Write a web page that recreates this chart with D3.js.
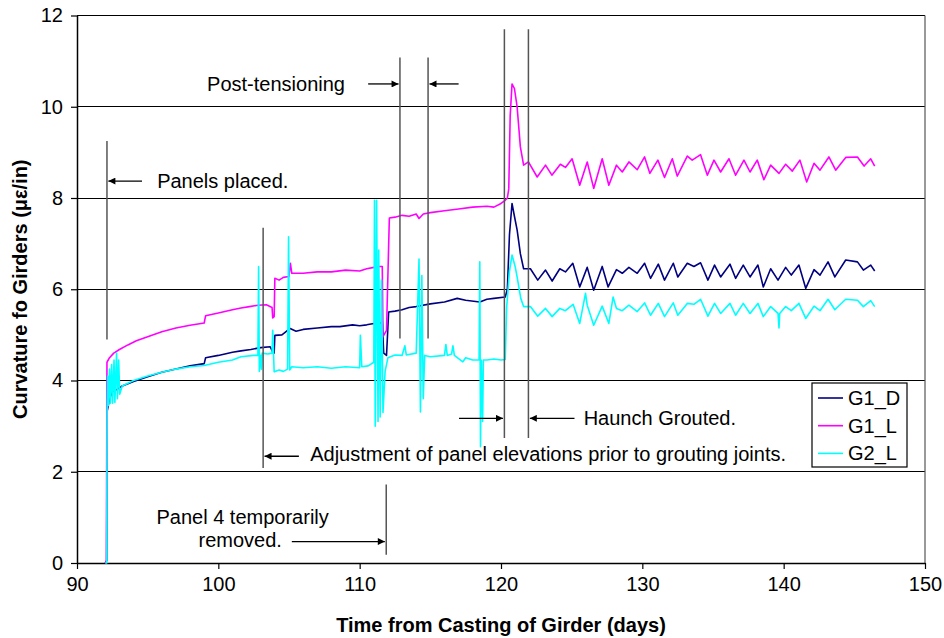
<!DOCTYPE html>
<html><head><meta charset="utf-8">
<script src="https://cdn.jsdelivr.net/npm/d3@7"></script>
<style>body{margin:0;background:#fff}svg{display:block}text{font-family:"Liberation Sans",Arial,sans-serif;fill:#000}</style>
</head><body>
<svg id="c" width="944" height="638"></svg>
<script>
// ---- data ----
const xTicks = [90,100,110,120,130,140,150];
const yTicks = [0,2,4,6,8,10,12];
const seriesNames = ["G1_D","G1_L","G2_L"];
const seriesColors = ["#000080","#ff00ff","#00ffff"];

const g1d = [[92.0,0],[92.1,0.05],[92.12,3.3],[92.3,3.6],[92.5,3.75],[92.8,3.8],[93.2,3.88],[94,3.98],[95,4.08],[96,4.18],[97,4.25],[98,4.32],[99,4.37],[99.1,4.5],[100,4.55],[101,4.62],[101.6,4.65],[102.3,4.68],[103.0,4.72],[103.67,4.74],[103.85,4.62],[103.95,4.6],[104.0,4.99],[104.5,5.0],[105.08,5.14],[105.5,5.08],[106,5.12],[107,5.15],[108,5.18],[108.6,5.18],[109.5,5.22],[110,5.2],[110.5,5.22],[111,5.25],[111.3,5.22],[111.6,5.29],[111.7,4.6],[111.9,4.55],[112.05,5.5],[112.5,5.52],[113,5.55],[113.5,5.6],[114,5.62],[115,5.68],[116,5.72],[116.9,5.8],[117.5,5.76],[118.5,5.72],[119,5.78],[119.5,5.8],[120.3,5.83],[120.45,6.0],[120.6,7.2],[120.78,7.88],[120.95,7.6],[121.14,7.3],[121.37,6.78],[121.6,6.45],[122.08,6.45],[122.6,6.2],[123.15,6.42],[123.62,6.18],[124.16,6.45],[124.56,6.38],[125.08,6.57],[125.57,6.05],[126.1,6.48],[126.56,5.98],[127.16,6.5],[127.58,6.05],[128.17,6.43],[128.58,6.35],[129.05,6.48],[129.64,6.35],[130.16,6.57],[130.58,6.24],[131.13,6.55],[131.57,6.2],[132.19,6.57],[132.51,6.27],[133.18,6.57],[133.65,6.5],[134.12,6.58],[134.64,6.2],[135.11,6.53],[135.54,6.27],[136.2,6.55],[136.6,6.24],[137.14,6.53],[137.62,6.27],[138.18,6.53],[138.56,6.05],[139.08,6.45],[139.6,6.2],[140.14,6.48],[140.54,6.31],[141.08,6.53],[141.56,6.02],[142.15,6.43],[142.57,6.31],[143.14,6.6],[143.62,6.27],[144.39,6.64],[145.22,6.6],[145.64,6.42],[146.16,6.53],[146.44,6.4]];

const g1l = [[92.0,0],[92.08,0.05],[92.12,4.4],[92.3,4.5],[92.6,4.6],[93.0,4.68],[93.6,4.78],[94.2,4.87],[95.0,4.96],[96.0,5.07],[97.0,5.15],[98.0,5.21],[99.0,5.26],[99.1,5.42],[100.0,5.48],[101.0,5.55],[101.6,5.59],[102.2,5.62],[102.8,5.65],[103.4,5.66],[103.8,5.6],[103.85,5.37],[103.95,5.4],[104.0,6.24],[104.3,6.2],[104.6,6.26],[105.0,6.28],[105.1,6.57],[105.2,6.35],[106,6.35],[107,6.38],[108,6.38],[109,6.42],[110,6.4],[110.5,6.45],[111.0,6.48],[111.4,6.5],[111.6,6.5],[111.65,4.96],[111.9,5.1],[112.1,7.56],[112.5,7.58],[113,7.62],[113.5,7.6],[114,7.65],[114.2,7.55],[114.5,7.65],[115,7.68],[116,7.72],[117,7.76],[118,7.8],[119,7.82],[119.5,7.8],[120,7.88],[120.3,7.95],[120.45,8.0],[120.55,8.2],[120.65,9.8],[120.78,10.5],[120.95,10.4],[121.14,10.0],[121.37,9.12],[121.6,8.72],[121.94,8.79],[122.56,8.46],[123.15,8.72],[123.6,8.5],[124.2,8.74],[124.56,8.67],[125.03,8.86],[125.57,8.28],[126.1,8.79],[126.56,8.21],[127.16,8.86],[127.63,8.28],[128.17,8.72],[128.58,8.57],[129.05,8.79],[129.64,8.62],[130.16,8.9],[130.53,8.54],[131.1,8.83],[131.57,8.45],[132.12,8.86],[132.47,8.48],[133.18,8.92],[133.53,8.83],[134.12,8.95],[134.6,8.5],[135.07,8.83],[135.54,8.57],[136.13,8.86],[136.6,8.5],[137.19,8.83],[137.62,8.57],[138.13,8.83],[138.6,8.4],[139.08,8.72],[139.67,8.54],[140.14,8.74],[140.61,8.59],[141.15,8.83],[141.63,8.35],[142.15,8.76],[142.57,8.61],[143.2,8.9],[143.68,8.61],[144.39,8.89],[145.22,8.9],[145.69,8.7],[146.16,8.86],[146.44,8.7]];

const g2l = [[92.0,0],[92.1,0],[92.13,3.3],[92.17,4.1],[92.22,3.45],[92.3,4.25],[92.36,3.5],[92.45,4.35],[92.52,3.5],[92.62,4.45],[92.68,3.52],[92.8,4.6],[92.86,3.6],[92.95,4.45],[93.02,3.7],[93.2,3.88],[94,4.0],[95,4.1],[96,4.18],[97,4.25],[98,4.3],[99,4.33],[100,4.4],[101,4.45],[101.6,4.52],[102.5,4.55],[102.8,4.55],[102.85,6.5],[102.9,4.2],[103.0,4.55],[103.05,4.25],[103.1,4.6],[103.5,4.58],[103.8,4.6],[103.85,5.1],[103.95,4.19],[104.3,4.23],[104.6,4.2],[104.9,4.25],[104.97,7.15],[105.05,4.23],[105.2,4.3],[106,4.28],[107,4.3],[108,4.27],[109,4.3],[110,4.28],[110.05,4.99],[110.15,4.3],[110.6,4.32],[111.0,4.4],[111.05,7.95],[111.1,3.0],[111.2,7.95],[111.3,3.1],[111.35,6.86],[111.45,3.2],[111.55,6.2],[111.65,3.3],[111.8,4.2],[112,4.5],[112.5,4.56],[113,4.55],[113.2,4.76],[113.3,4.56],[114,4.6],[114.2,6.66],[114.3,3.31],[114.4,6.3],[114.5,3.6],[114.6,4.55],[115,4.52],[116.0,4.55],[116.1,4.79],[116.2,4.55],[116.5,4.58],[116.6,4.76],[116.7,4.55],[117.3,4.41],[117.5,4.5],[118,4.45],[118.45,4.45],[118.5,6.6],[118.55,2.55],[118.6,4.45],[118.7,3.1],[118.75,4.45],[119,4.45],[119.5,4.47],[120,4.45],[120.3,4.46],[120.4,5.6],[120.6,6.4],[120.78,6.75],[121.0,6.5],[121.14,6.27],[121.4,5.8],[121.6,5.62],[122.08,5.62],[122.6,5.41],[123.15,5.58],[123.62,5.4],[124.16,5.58],[124.56,5.53],[125.1,5.67],[125.57,5.25],[125.98,5.91],[126.1,5.65],[126.56,5.21],[127.16,5.63],[127.63,5.25],[127.93,5.83],[128.17,5.58],[128.58,5.53],[129.05,5.65],[129.64,5.51],[130.16,5.7],[130.58,5.43],[131.13,5.69],[131.57,5.4],[132.19,5.7],[132.51,5.43],[133.18,5.69],[133.65,5.67],[134.12,5.78],[134.64,5.41],[135.11,5.69],[135.54,5.47],[136.2,5.69],[136.6,5.43],[137.14,5.69],[137.62,5.47],[138.18,5.69],[138.56,5.4],[139.08,5.62],[139.6,5.47],[139.67,5.15],[139.72,5.47],[140.14,5.62],[140.54,5.53],[141.08,5.69],[141.56,5.36],[142.15,5.63],[142.57,5.53],[143.14,5.78],[143.62,5.55],[144.39,5.78],[145.22,5.76],[145.64,5.62],[146.16,5.75],[146.44,5.62]];

// annotation event lines: [day, yFrom, yTo]
const eventLines = [[92.12,4.9,9.25],[112.85,4.92,11.08],[114.84,4.92,11.08],[120.24,2.74,11.7],[121.94,2.74,11.7],[103.17,2.08,7.35],[111.88,0.18,1.72]];
// arrows: [fromDay, toDay, y]
const arrows = [[94.6,92.22,8.37],[110.6,112.75,10.5],[117.0,114.94,10.5],[117.03,120.14,3.17],[125.2,122.04,3.17],[105.7,103.27,2.34],[105.2,111.78,0.47]];
// labels: [text, day, y, anchor]
const labels = [["Panels placed.",95.67,8.37,"start"],["Post-tensioning",108.96,10.5,"end"],["Haunch Grouted.",125.85,3.17,"start"],["Adjustment of panel elevations prior to grouting joints.",106.5,2.4,"start"],["Panel 4 temporarily",101.72,1.01,"middle"],["removed.",104.5,0.5,"end"]];

// ---- chart ----
const svg = d3.select("#c");
const L=77, R=925, T=15.5, B=563;
const FS = "20px";
const x = d3.scaleLinear().domain([90,150]).range([L,R]);
const y = d3.scaleLinear().domain([0,12]).range([B,T]);

// gridlines
svg.append("g").selectAll("line").data(yTicks.filter(d=>d>0)).join("line")
  .attr("x1",L).attr("x2",R).attr("y1",d=>y(d)).attr("y2",d=>y(d))
  .attr("stroke","#000").attr("stroke-width",1).attr("shape-rendering","crispEdges");
// right border
svg.append("line").attr("x1",R).attr("x2",R).attr("y1",T).attr("y2",B).attr("stroke","#555").attr("stroke-width",1.2);

// axes
const xa = svg.append("g").attr("transform",`translate(0,${B})`)
  .call(d3.axisBottom(x).tickValues(xTicks).tickSize(6).tickSizeOuter(0).tickPadding(8));
const ya = svg.append("g").attr("transform",`translate(${L},0)`)
  .call(d3.axisLeft(y).tickValues(yTicks).tickSize(6).tickSizeOuter(0).tickPadding(8));
[xa,ya].forEach(a=>{a.select(".domain").attr("stroke","#000").attr("stroke-width",1.5);
  a.selectAll(".tick line").attr("stroke","#000").attr("stroke-width",1.2);
  a.selectAll("text").attr("font-size",FS).attr("font-family","Liberation Sans, Arial, sans-serif").attr("fill","#000");});

// series
const line = d3.line().x(d=>x(d[0])).y(d=>y(d[1]));
[g1d,g1l,g2l].forEach((s,i)=>{
  svg.append("path").datum(s).attr("d",line).attr("fill","none")
    .attr("stroke",seriesColors[i]).attr("stroke-width",1.6).attr("stroke-linejoin","round");
});

// event lines
svg.append("g").selectAll("line").data(eventLines).join("line")
  .attr("x1",d=>x(d[0])).attr("x2",d=>x(d[0])).attr("y1",d=>y(d[1])).attr("y2",d=>y(d[2]))
  .attr("stroke","#555").attr("stroke-width",1.5);

// arrows
const defs = svg.append("defs");
defs.append("marker").attr("id","ah").attr("viewBox","0 0 10 10").attr("refX",10).attr("refY",5)
  .attr("markerWidth",10).attr("markerHeight",7).attr("markerUnits","userSpaceOnUse").attr("orient","auto")
  .append("path").attr("d","M0,0L10,5L0,10Z").attr("fill","#000");
svg.append("g").selectAll("line").data(arrows).join("line")
  .attr("x1",d=>x(d[0])).attr("x2",d=>x(d[1])).attr("y1",d=>y(d[2])).attr("y2",d=>y(d[2]))
  .attr("stroke","#000").attr("stroke-width",1.3).attr("marker-end","url(#ah)");

// labels
svg.append("g").selectAll("text").data(labels).join("text")
  .attr("x",d=>x(d[1])).attr("y",d=>y(d[2])).attr("dy","0.35em").attr("text-anchor",d=>d[3])
  .attr("font-size",FS).text(d=>d[0]);

// axis titles
svg.append("text").attr("x",(L+R)/2).attr("y",632).attr("text-anchor","middle")
  .attr("font-size",FS).attr("font-weight","bold").text("Time from Casting of Girder (days)");
svg.append("text").attr("transform",`translate(27,${(T+B)/2}) rotate(-90)`).attr("text-anchor","middle")
  .attr("font-size",FS).attr("font-weight","bold").text("Curvature fo Girders (\u03bc\u03b5/in)");

// legend
const lg = svg.append("g");
lg.append("rect").attr("x",812).attr("y",383).attr("width",95).attr("height",84)
  .attr("fill","#fff").attr("stroke","#000").attr("stroke-width",1.2);
seriesNames.forEach((n,i)=>{
  const yy = 398 + i*27.7;
  lg.append("line").attr("x1",818).attr("x2",843).attr("y1",yy).attr("y2",yy)
    .attr("stroke",seriesColors[i]).attr("stroke-width",1.6);
  lg.append("text").attr("x",848).attr("y",yy).attr("dy","0.35em").attr("font-size",FS).text(n);
});
</script>
</body></html>
